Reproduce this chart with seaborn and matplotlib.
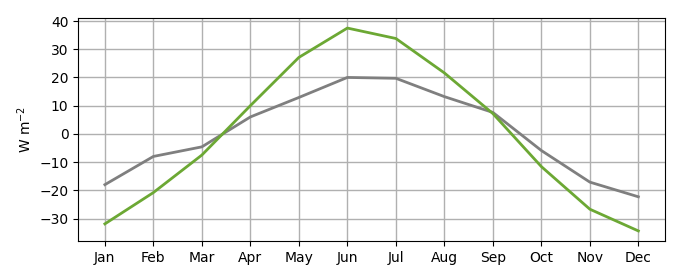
import matplotlib
matplotlib.use("Agg")
import matplotlib.pyplot as plt
import seaborn as sns
import pandas as pd

months = ["Jan", "Feb", "Mar", "Apr", "May", "Jun", "Jul", "Aug", "Sep", "Oct", "Nov", "Dec"]
gray_vals = [-18.0, -8.0, -4.6, 6.0, 12.9, 20.0, 19.7, 13.2, 7.6, -5.9, -17.1, -22.3]
green_vals = [-31.9, -20.8, -7.5, 10.0, 27.1, 37.5, 33.8, 21.6, 7.2, -11.6, -26.7, -34.4]

df = pd.DataFrame({"month": months * 2,
                   "x": list(range(12)) * 2,
                   "value": gray_vals + green_vals,
                   "series": ["gray"] * 12 + ["green"] * 12})

fig = plt.figure(figsize=(6.8, 2.8), dpi=100)
ax = fig.add_axes([0.115, 0.139, 0.863, 0.797])
sns.lineplot(data=df, x="x", y="value", hue="series",
             palette={"gray": "#7f7f7f", "green": "#6ca834"},
             linewidth=2, legend=False, ax=ax)
ax.set_xticks(range(12))
ax.set_xticklabels(months)
ax.set_yticks([-30, -20, -10, 0, 10, 20, 30, 40])
ax.grid(True, color="#b0b0b0", linewidth=1)
ax.set_axisbelow(True)
ax.set_xlabel("")
ax.set_ylabel("W m$^{-2}$")
fig.savefig("out.png", dpi=100)
